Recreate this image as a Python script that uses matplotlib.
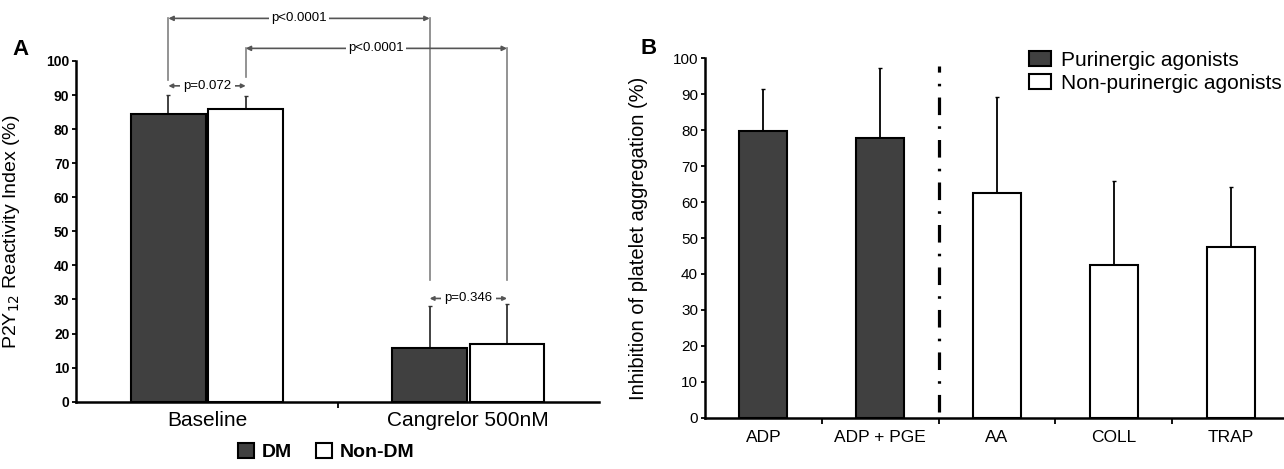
import numpy as np
import matplotlib.pyplot as plt
from matplotlib.patches import Patch

plt.rcParams['font.family'] = ['Liberation Sans', 'DejaVu Sans']

# Panel A data
groups_a = ['Baseline', 'Cangrelor 500nM']
dm_mean = [84.4, 15.8]
dm_err = [5.6, 12.3]
nondm_mean = [86.0, 16.9]
nondm_err = [3.8, 11.8]

# Panel B data
agonists = ['ADP', 'ADP + PGE', 'AA', 'COLL', 'TRAP']
inhibition = [79.8, 77.9, 62.6, 42.5, 47.4]
inhibition_err = [11.6, 19.3, 26.7, 23.4, 16.7]
purinergic = [True, True, False, False, False]

dark = '#404040'

fig = plt.figure(figsize=(12.84, 4.69), dpi=100)

# ---------------- Panel A ----------------
axA = fig.add_axes([0.0595, 0.1435, 0.407, 0.7265])
x = np.arange(len(groups_a))
w = 0.285
off = 0.148
axA.bar(x - off, dm_mean, w, color=dark, edgecolor='black', linewidth=1.5, zorder=2)
axA.bar(x + off, nondm_mean, w, color='white', edgecolor='black', linewidth=1.5, zorder=2)
axA.errorbar(x - off, dm_mean, yerr=[np.zeros(2), dm_err], fmt='none', ecolor='#333333',
             elinewidth=1.3, capsize=1.5, zorder=1)
axA.errorbar(x + off, nondm_mean, yerr=[np.zeros(2), nondm_err], fmt='none', ecolor='#333333',
             elinewidth=1.3, capsize=1.5, zorder=1)

axA.set_xlim(-0.5, 1.5)
axA.set_ylim(0, 100)
axA.set_yticks(np.arange(0, 101, 10))
axA.tick_params(axis='y', labelsize=10, length=3, width=1.3, pad=2)
for t in axA.get_yticklabels():
    t.set_fontweight('bold')
axA.set_xticks(x, groups_a, fontsize=15)
axA.tick_params(axis='x', length=0, pad=7)
axA.set_xticks([0.5], minor=True)
axA.tick_params(axis='x', which='minor', length=4, width=1.3)
for s in ['top', 'right']:
    axA.spines[s].set_visible(False)
for s in ['left', 'bottom']:
    axA.spines[s].set_linewidth(1.8)
axA.set_ylabel('P2Y$_{12}$ Reactivity Index (%)', fontsize=14)
axA.yaxis.set_label_coords(-0.105, 0.5)

gray = '#808080'


def bracket(ax, x1, x2, y, y1, y2, label):
    ax.plot([x1, x1], [y, y1], color=gray, lw=1.2, clip_on=False)
    ax.plot([x2, x2], [y, y2], color=gray, lw=1.2, clip_on=False)
    ax.annotate('', xy=(x1, y), xytext=(x2, y), annotation_clip=False,
                arrowprops=dict(arrowstyle='<|-|>', color='#555555', lw=1.2,
                                mutation_scale=7, shrinkA=0, shrinkB=0))
    ax.text((x1 + x2) / 2, y, label, ha='center', va='center', fontsize=9.5,
            bbox=dict(fc='white', ec='none', pad=1.5), clip_on=False)


bracket(axA, -off, 1 - off, 112.5, 94.4, 35.7, 'p<0.0001')
bracket(axA, off, 1 + off, 103.7, 95.4, 35.7, 'p<0.0001')


def small_arrow(ax, x1, x2, y, label):
    ax.annotate('', xy=(x1, y), xytext=(x2, y), annotation_clip=False,
                arrowprops=dict(arrowstyle='<|-|>', color='#555555', lw=1.2,
                                mutation_scale=6, shrinkA=0, shrinkB=0))
    ax.text((x1 + x2) / 2, y, label, ha='center', va='center', fontsize=9.5,
            bbox=dict(fc='white', ec='none', pad=2.5), clip_on=False)


small_arrow(axA, -off, off, 92.7, 'p=0.072')
small_arrow(axA, 1 - off, 1 + off, 30.3, 'p=0.346')

fig.text(0.016, 0.895, 'A', fontsize=16, fontweight='bold', ha='center', va='center')

fig.legend(handles=[Patch(fc=dark, ec='black', lw=1.5), Patch(fc='white', ec='black', lw=1.5)],
           labels=['DM', 'Non-DM'], ncol=2, loc='center', bbox_to_anchor=(0.254, 0.036),
           frameon=False, prop=dict(weight='bold', size=14), handlelength=0.85,
           handleheight=0.85, handletextpad=0.4, columnspacing=1.2)

# ---------------- Panel B ----------------
axB = fig.add_axes([0.549, 0.1095, 0.455, 0.766])
xb = np.arange(len(agonists))
colors = [dark if p else 'white' for p in purinergic]
axB.bar(xb, inhibition, 0.41, color=colors, edgecolor='black', linewidth=1.5, zorder=2)
axB.errorbar(xb, inhibition, yerr=[np.zeros(len(xb)), inhibition_err], fmt='none',
             ecolor='black', elinewidth=1.3, capsize=1.5, zorder=1)
axB.plot([1.5, 1.5], [1.5, 98], color='black', lw=2.3, linestyle=(0, (5.5, 3.5, 0.8, 3.5)),
         zorder=3)

axB.set_xlim(-0.5, 4.5)
axB.set_ylim(0, 100)
axB.set_yticks(np.arange(0, 101, 10))
axB.tick_params(axis='y', labelsize=11, length=3, width=1.3, pad=2)
axB.set_xticks(xb, agonists, fontsize=12.5)
axB.tick_params(axis='x', length=0, pad=9)
axB.set_xticks([0.5, 1.5, 2.5, 3.5], minor=True)
axB.tick_params(axis='x', which='minor', length=4, width=1.3)
for s in ['top', 'right']:
    axB.spines[s].set_visible(False)
for s in ['left', 'bottom']:
    axB.spines[s].set_linewidth(1.8)
axB.set_ylabel('Inhibition of platelet aggregation (%)', fontsize=14.5)
axB.yaxis.set_label_coords(-0.098, 0.5)

fig.text(0.505, 0.897, 'B', fontsize=16, fontweight='bold', ha='center', va='center')

fig.legend(handles=[Patch(fc=dark, ec='black', lw=1.5), Patch(fc='white', ec='black', lw=1.5)],
           labels=['Purinergic agonists', 'Non-purinergic agonists'], loc='upper left',
           bbox_to_anchor=(0.795, 0.91), frameon=False, fontsize=15, handlelength=1.05,
           handleheight=0.75, handletextpad=0.5, labelspacing=0.2, borderaxespad=0)

fig.savefig('out.png', dpi=100)
